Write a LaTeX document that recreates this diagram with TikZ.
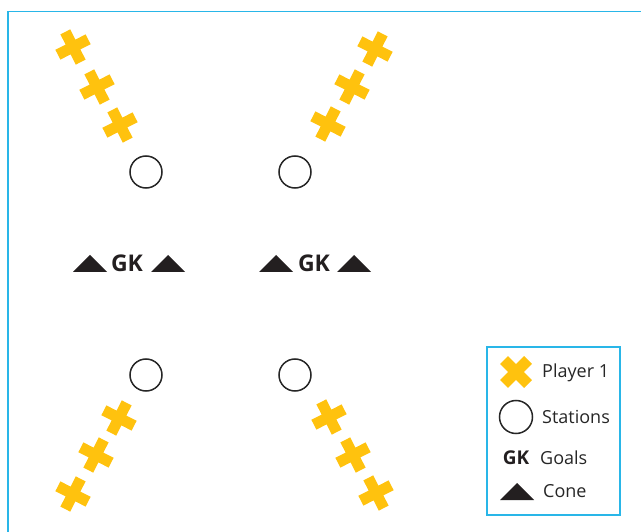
\documentclass[tikz,border=0pt]{standalone}
\usepackage{fontspec}
\setmainfont{Open Sans}
\usetikzlibrary{shapes.misc}
\definecolor{frameblue}{RGB}{41,182,232}
\definecolor{crossyellow}{RGB}{255,194,14}
\definecolor{conegray}{RGB}{35,31,32}

\begin{document}
\begin{tikzpicture}[
  x=1pt, y=-1pt,
  player/.style={cross out,draw=crossyellow,line width=11pt,minimum size=24pt,inner sep=0pt,outer sep=0pt},
  station/.style={circle,draw=black!85,line width=1.5pt,minimum size=32pt,inner sep=0pt},
  cone/.style={inner sep=0pt,minimum width=34pt,minimum height=17pt,
    path picture={\fill[conegray] (path picture bounding box.south west) -- (path picture bounding box.north) -- (path picture bounding box.south east) -- cycle;}},
  goal/.style={inner sep=0pt,text=conegray,font=\bfseries\fontsize{23}{23}\selectfont},
  legtext/.style={anchor=west,inner sep=0pt,text=black!85,font=\fontsize{18}{18}\selectfont}
]
  \useasboundingbox (0,0) rectangle (641,532);
  % field frame, cut off at the right and bottom
  \draw[frameblue,line width=1.8pt] (8,545) -- (8,11.5) -- (655,11.5);

  % players
  \node[player,rotate=-18] (tl1) at (73,47) {};
  \node[player,rotate=-18] (tl2) at (97,87) {};
  \node[player,rotate=-18] (tl3) at (120,125) {};
  \node[player,rotate=18] (tr1) at (375,49) {};
  \node[player,rotate=18] (tr2) at (352,87) {};
  \node[player,rotate=18] (tr3) at (328,124) {};
  \node[player,rotate=18] (bl1) at (119,418) {};
  \node[player,rotate=18] (bl2) at (96,455) {};
  \node[player,rotate=18] (bl3) at (73,494) {};
  \node[player,rotate=-18] (br1) at (329,417) {};
  \node[player,rotate=-18] (br2) at (353,455) {};
  \node[player,rotate=-18] (br3) at (376,493) {};

  % stations
  \node[station] (s1) at (146,172) {};
  \node[station] (s2) at (295,172) {};
  \node[station] (s3) at (146,375) {};
  \node[station] (s4) at (295,375) {};

  % goals with cones
  \node[cone] (c1) at (90,263.5) {};
  \node[goal] (gk1) at (127,263.5) {GK};
  \node[cone] (c2) at (168,263.5) {};
  \node[cone] (c3) at (276,263.5) {};
  \node[goal] (gk2) at (314,263.5) {GK};
  \node[cone] (c4) at (354,263.5) {};

  % legend
  \node[draw=frameblue,line width=1.5pt,minimum width=133pt,minimum height=168pt,inner sep=0pt] (legend) at (553.5,431) {};
  \node[player] (lp) at (516,372) {};
  \node[legtext] (lpt) at (542,373) {Player 1};
  \node[station,minimum size=33pt] (ls) at (516,417) {};
  \node[legtext] (lst) at (542,417) {Stations};
  \node[goal,font=\bfseries\fontsize{19}{19}\selectfont] (lg) at (516,458) {GK};
  \node[legtext] (lgt) at (540,458) {Goals};
  \node[cone] (lc) at (517,491.5) {};
  \node[legtext] (lct) at (543,491) {Cone};
\end{tikzpicture}
\end{document}
